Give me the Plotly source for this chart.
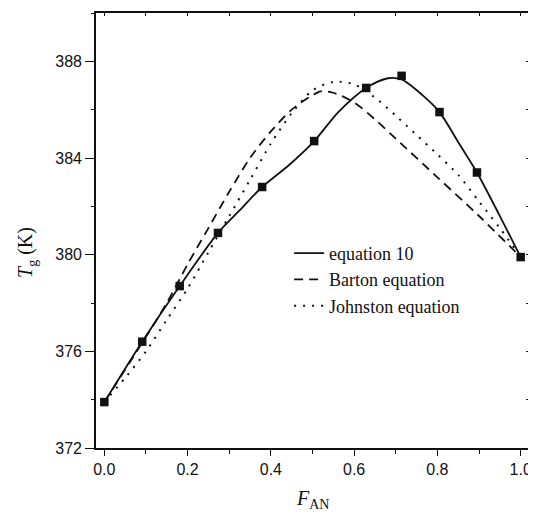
import plotly.graph_objects as go

# Measured data points (equation 10)
f_an = [0.0, 0.091, 0.181, 0.273, 0.379, 0.504, 0.629, 0.714, 0.805, 0.895, 1.0]
tg_measured = [373.9, 376.4, 378.7, 380.9, 382.8, 384.7, 386.9, 387.4, 385.9, 383.4, 379.9]

# Fitted curve, equation 10
eq10_x = [0.0, 0.091, 0.181, 0.273, 0.326, 0.379, 0.443, 0.504, 0.562, 0.629, 0.681, 0.714, 0.764, 0.805, 0.852, 0.895, 0.947, 1.0]
eq10_y = [373.9, 376.4, 378.7, 380.9, 381.85, 382.8, 383.7, 384.7, 385.9, 386.9, 387.3, 387.25, 386.6, 385.9, 384.6, 383.4, 381.7, 379.9]

# Barton equation
barton_x = [0.0, 0.1, 0.15, 0.2, 0.25, 0.3, 0.35, 0.4, 0.45, 0.5, 0.52, 0.55, 0.6, 0.65, 0.7, 0.8, 0.9, 1.0]
barton_y = [373.9, 376.6, 378.0, 379.6, 381.1, 382.6, 384.0, 385.1, 386.0, 386.6, 386.76, 386.7, 386.3, 385.6, 384.8, 383.2, 381.6, 379.9]

# Johnston equation
johnston_x = [0.0, 0.05, 0.1, 0.15, 0.2, 0.25, 0.3, 0.35, 0.4, 0.45, 0.5, 0.55, 0.6, 0.65, 0.7, 0.75, 0.8, 0.85, 0.9, 0.95, 1.0]
johnston_y = [373.9, 374.9, 376.0, 377.3, 378.6, 380.1, 381.6, 383.1, 384.6, 385.85, 386.8, 387.15, 387.05, 386.5, 385.75, 384.95, 384.15, 383.3, 382.2, 381.1, 379.9]

x_ticks = [0.0, 0.2, 0.4, 0.6, 0.8, 1.0]
x_ticklabels = ["0.0", "0.2", "0.4", "0.6", "0.8", "1.0"]
y_ticks = [372, 376, 380, 384, 388]
y_ticklabels = ["372", "376", "380", "384", "388"]

ink = "#111111"
x_range = [-0.02, 1.02]
y_range = [372, 390]

fig = go.Figure()
fig.add_trace(go.Scatter(x=eq10_x, y=eq10_y, mode="lines", name="equation 10",
                         line=dict(color=ink, width=1.8, shape="spline", smoothing=0.8),
                         legendgroup="a"))
fig.add_trace(go.Scatter(x=barton_x, y=barton_y, mode="lines", name="Barton equation",
                         line=dict(color=ink, width=1.8, dash="9px,6px", shape="spline", smoothing=0.8),
                         legendgroup="b"))
fig.add_trace(go.Scatter(x=johnston_x, y=johnston_y, mode="lines", name="Johnston equation",
                         line=dict(color=ink, width=2, dash="2px,7px", shape="spline", smoothing=0.8),
                         legendgroup="c"))
fig.add_trace(go.Scatter(x=f_an, y=tg_measured, mode="markers", showlegend=False,
                         marker=dict(symbol="square", size=8.5, color=ink)))
# invisible trace to anchor the mirrored (top/right) axes
fig.add_trace(go.Scatter(x=[0.5], y=[380], xaxis="x2", yaxis="y2", mode="markers",
                         marker=dict(opacity=0), showlegend=False, hoverinfo="skip"))

serif = "Liberation Serif, Times New Roman, serif"

# The page body has an 8px margin, so the figure is sized to fill the rest of the window.
fig.update_layout(
    width=528, height=510,
    margin=dict(l=88, r=4, t=5, b=70),
    plot_bgcolor="white", paper_bgcolor="white",
    font=dict(family="Liberation Sans, Arial, sans-serif", color=ink),
    showlegend=True,
    legend=dict(x=0.446, y=0.490, xanchor="left", yanchor="top",
                font=dict(family=serif, size=18, color=ink),
                bgcolor="rgba(0,0,0,0)", tracegroupgap=0, itemwidth=30),
    xaxis=dict(range=x_range, tickvals=x_ticks, ticktext=x_ticklabels,
               ticks="outside", ticklen=6, tickwidth=1.3, tickcolor=ink,
               minor=dict(dtick=0.1, tick0=0, ticks="outside", ticklen=4, tickcolor=ink, tickwidth=1.3),
               showline=True, linecolor=ink, linewidth=1.6, showgrid=False, zeroline=False,
               tickfont=dict(size=16, color=ink)),
    yaxis=dict(range=y_range, tickvals=y_ticks, ticktext=y_ticklabels,
               ticks="outside", ticklen=9, tickwidth=1.3, tickcolor=ink,
               minor=dict(dtick=2, tick0=372, ticks="outside", ticklen=3, tickcolor=ink, tickwidth=1.3),
               showline=True, linecolor=ink, linewidth=1.6, showgrid=False, zeroline=False,
               tickfont=dict(size=16, color=ink)),
    xaxis2=dict(range=x_range, overlaying="x", side="top", anchor="y",
                tickvals=[0.0, 0.1, 0.2, 0.3, 0.4, 0.5, 0.6, 0.7, 0.8, 0.9, 1.0],
                ticks="inside", ticklen=3, tickcolor=ink, tickwidth=1.2,
                showticklabels=False, showline=True, linecolor=ink, linewidth=1.6,
                showgrid=False, zeroline=False),
    yaxis2=dict(range=y_range, overlaying="y", side="right", anchor="x",
                tickvals=[372, 374, 376, 378, 380, 382, 384, 386, 388, 390],
                ticks="inside", ticklen=3, tickcolor=ink, tickwidth=1.2,
                showticklabels=False, showline=True, linecolor=ink, linewidth=1.6,
                showgrid=False, zeroline=False),
    annotations=[
        dict(text="<i>T</i><sub>g</sub> (K)", xref="paper", yref="paper",
             x=-0.16, y=0.45, xanchor="center", yanchor="middle", textangle=-90,
             showarrow=False, font=dict(family=serif, size=20, color=ink)),
        dict(text="<i>F</i><sub>AN</sub>", xref="paper", yref="paper",
             x=0.5, y=-0.085, xanchor="center", yanchor="top",
             showarrow=False, font=dict(family=serif, size=20, color=ink)),
    ],
)

fig.write_html("out.html")
